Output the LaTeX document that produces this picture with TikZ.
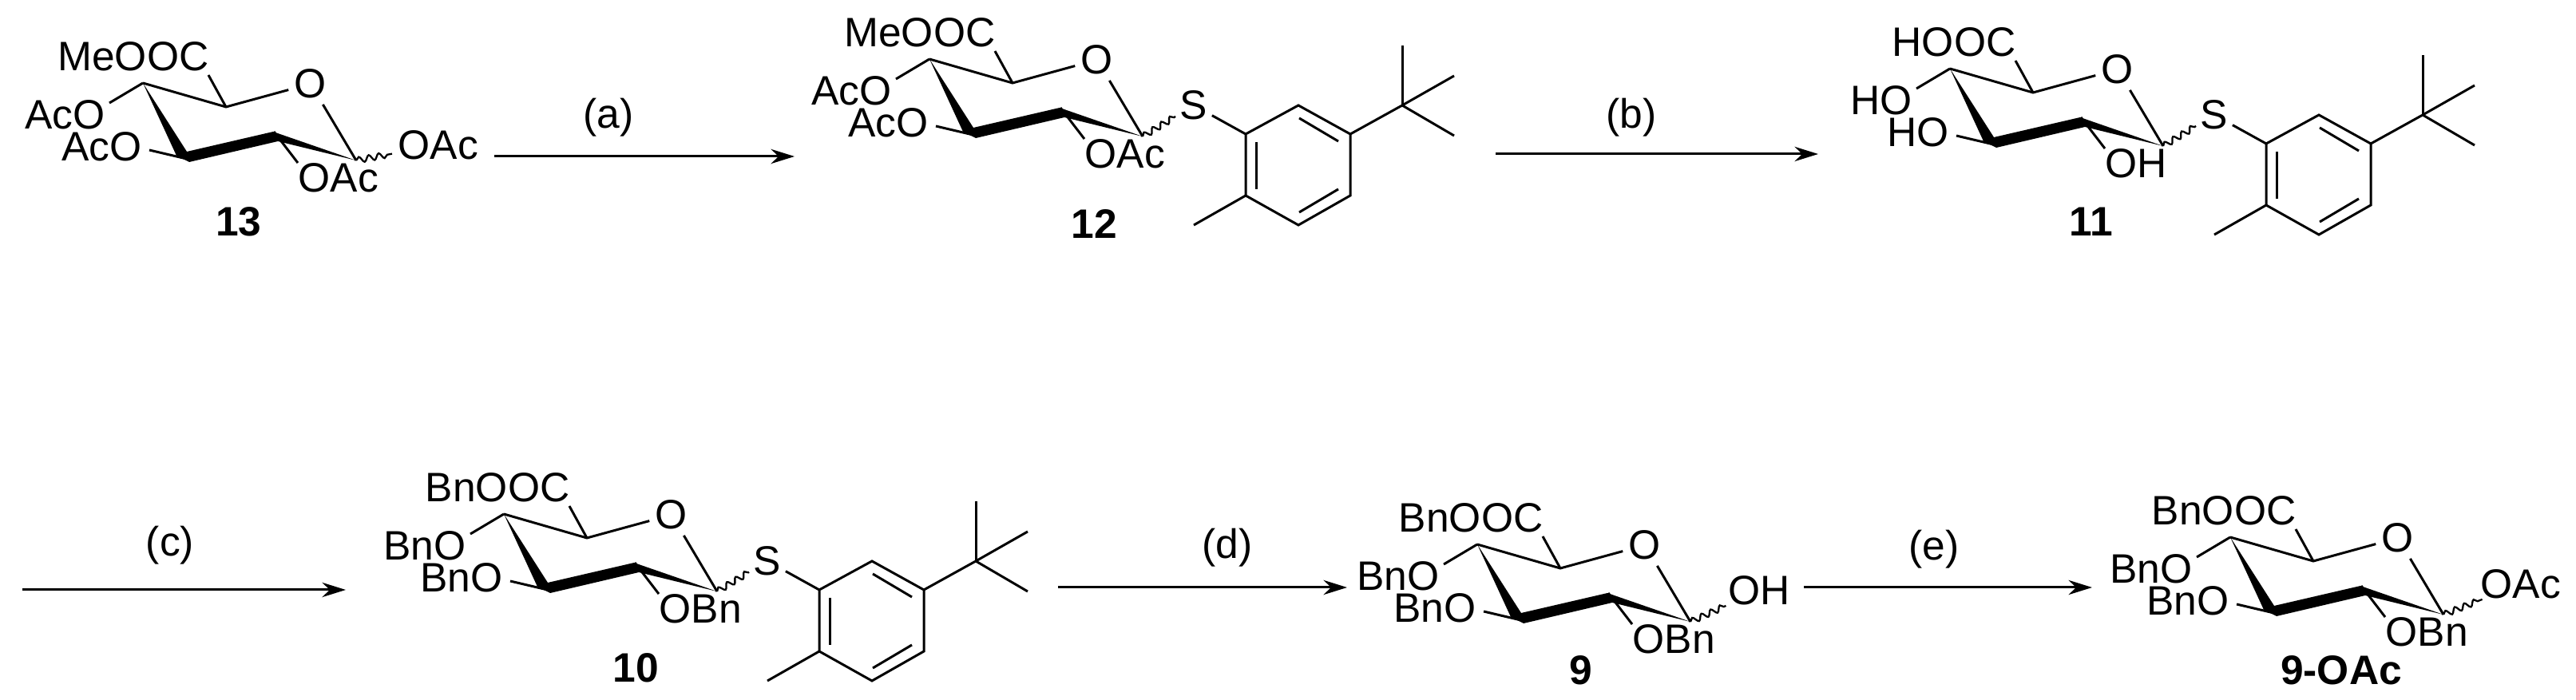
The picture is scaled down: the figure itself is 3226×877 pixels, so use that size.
\documentclass[tikz,border=0pt]{standalone}
\usepackage{fontspec}
\setmainfont{Liberation Sans}
\usepackage{tikz}
\usetikzlibrary{arrows.meta,decorations.pathmorphing}

\tikzset{
    lab/.style={inner sep=0pt, font=\fontsize{14.65}{16}\selectfont},
    num/.style={lab, font=\fontsize{14.65}{16}\selectfont\bfseries},
    bond/.style={line width=0.85pt},
    wave/.style={line width=0.65pt, decorate, decoration={snake, amplitude=1.05pt, segment length=3.6pt}},
    rxn/.style={line width=0.85pt, -{Stealth[length=8.4pt, width=5.2pt]}}
}

% sugar ring: prefix, position of C5, acid, upper and lower ring O, O on C2
\newcommand{\sugar}[6]{
    \begin{scope}[shift={(#2)}]
        \coordinate (#1c5) at (0, 0);
        \coordinate (#1cm) at (104, 30);
        \coordinate (#1c3) at (59, 96);
        \coordinate (#1c2) at (164, 61);
        \coordinate (#1c1) at (267, 97);
        \coordinate (#1acidend) at (82, -10);
        \coordinate (#1upend) at (-42, 25);
        \coordinate (#1lowend) at (8, 84);
        \node [lab, inner sep=0.07cm] (#1oxy) at (210, 1) {O};
        \node [lab, anchor=east] (#1acid) at (83, -33) {#3};
        \node [lab, anchor=east] (#1up) at (-47, 40) {#4};
        \node [lab, anchor=east] (#1low) at (-1, 80) {#5};
        \node [lab, anchor=west] (#1two) at (194, 119) {#6};
        \draw [bond] (#1c5) -- (#1cm) -- (#1oxy) -- (#1c1);
        \draw [bond] (#1cm) -- (#1acidend);
        \draw [bond] (#1c5) -- (#1upend);
        \draw [bond] (#1c3) -- (#1lowend);
        \draw [bond] (#1c2) -- (#1two.north west);
        % bold front edge
        \fill [line join=round] (#1c5) -- (42, 91) -- (58, 99) -- (169, 73) -- (#1c1) -- (163, 61) -- (55, 86) -- cycle;
    \end{scope}
}

% thioaryl part: prefix, position of S
\newcommand{\thioaryl}[2]{
    \begin{scope}[shift={(#2)}]
        \node [lab, inner sep=0.05cm] (#1s) at (0, 0) {S};
        \coordinate (#1r1) at (65, 36);
        \coordinate (#1r2) at (131, 0);
        \coordinate (#1r3) at (196, 36);
        \coordinate (#1r4) at (196, 113);
        \coordinate (#1r5) at (131, 150);
        \coordinate (#1r6) at (65, 113);
        \coordinate (#1me) at (0, 150);
        \coordinate (#1tbu) at (261, 0);
        \draw [bond] (#1s) -- (#1r1);
        \draw [bond] (#1r1) -- (#1r2) -- (#1r3) -- (#1r4) -- (#1r5) -- (#1r6) -- cycle;
        \draw [bond] (132, 16) -- (181, 45);
        \draw [bond] (78, 46) -- (78, 105);
        \draw [bond] (181, 105) -- (132, 134);
        \draw [bond] (#1r6) -- (#1me);
        \draw [bond] (#1r3) -- (#1tbu);
        \draw [bond] (#1tbu) -- (261, -75);
        \draw [bond] (#1tbu) -- (326, -37);
        \draw [bond] (#1tbu) -- (326, 38);
    \end{scope}
}

\begin{document}
\begin{tikzpicture}[x=0.01cm, y=-0.01cm]
    \useasboundingbox (0, 0) rectangle (3226, 877);

    % 13
    \sugar{a}{179, 104}{MeOOC}{AcO}{AcO}{OAc}
    \node [lab, anchor=west, inner xsep=0.07cm] (aoac) at (491, 182) {OAc};
    \draw [wave] (ac1) -- (aoac);
    \node [num] (n13) at (299, 278) {13};

    % (a)
    \coordinate (ra0) at (619, 196);
    \coordinate (ra1) at (995, 196);
    \draw [rxn] (ra0) -- (ra1);
    \node [lab] (la) at (762, 147) {(a)};

    % 12
    \sugar{b}{1164, 74}{MeOOC}{AcO}{AcO}{OAc}
    \thioaryl{b}{1495, 132}
    \draw [wave] (bc1) -- (bs);
    \node [num] (n12) at (1370, 281) {12};

    % (b)
    \coordinate (rb0) at (1873, 193);
    \coordinate (rb1) at (2277, 193);
    \draw [rxn] (rb0) -- (rb1);
    \node [lab] (lb) at (2043, 147) {(b)};

    % 11
    \sugar{c}{2442, 86}{HOOC}{HO}{HO}{OH}
    \thioaryl{c}{2773, 144}
    \draw [wave] (cc1) -- (cs);
    \node [num] (n11) at (2619, 278) {11};

    % (c)
    \coordinate (rc0) at (28, 739);
    \coordinate (rc1) at (433, 739);
    \draw [rxn] (rc0) -- (rc1);
    \node [lab] (lc) at (213, 683) {(c)};

    % 10
    \sugar{d}{631, 644}{BnOOC}{BnO}{BnO}{OBn}
    \thioaryl{d}{961, 703}
    \draw [wave] (dc1) -- (ds);
    \node [num] (n10) at (796, 837) {10};

    % (d)
    \coordinate (rd0) at (1325, 736);
    \coordinate (rd1) at (1687, 736);
    \draw [rxn] (rd0) -- (rd1);
    \node [lab] (ld) at (1537, 686) {(d)};

    % 9
    \sugar{e}{1850, 682}{BnOOC}{BnO}{BnO}{OBn}
    \node [lab, anchor=west, inner xsep=0.07cm] (eoh) at (2157, 740) {OH};
    \draw [wave] (ec1) -- (eoh);
    \node [num] (n9) at (1980, 840) {9};

    % (e)
    \coordinate (re0) at (2259, 736);
    \coordinate (re1) at (2620, 736);
    \draw [rxn] (re0) -- (re1);
    \node [lab] (le) at (2422, 688) {(e)};

    % 9-OAc
    \sugar{f}{2793, 673}{BnOOC}{BnO}{BnO}{OBn}
    \node [lab, anchor=west, inner xsep=0.07cm] (foac) at (3099, 732) {OAc};
    \draw [wave] (fc1) -- (foac);
    \node [num] (n9oac) at (2932, 840) {9-OAc};
\end{tikzpicture}
\end{document}
